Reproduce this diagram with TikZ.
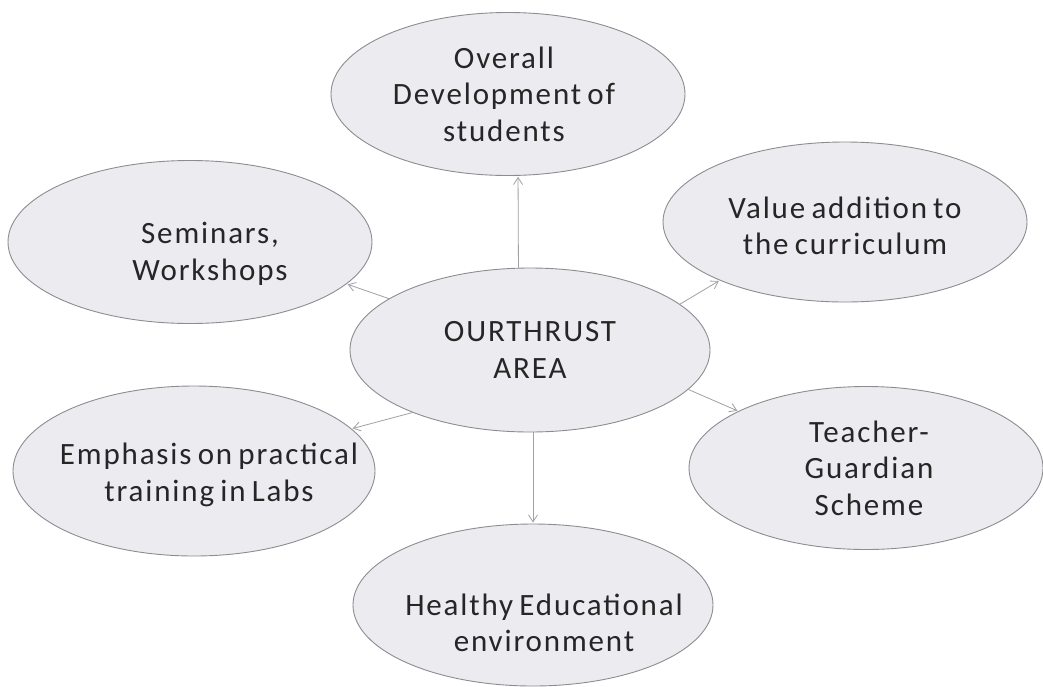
\documentclass[tikz,border=0pt]{standalone}
\usepackage{fontspec}
\setmainfont{Carlito}[LetterSpace=6,WordSpace=0.7]
\usetikzlibrary{shapes.geometric,arrows.meta}
\definecolor{ellfill}{RGB}{236,236,240}
\definecolor{ellline}{RGB}{140,140,145}
\definecolor{arrline}{RGB}{160,160,165}

\begin{document}
\begin{tikzpicture}[x=1pt,y=-1pt,>={Straight Barb[length=7pt,width=9pt]},
                    shorten >=1pt]
  \tikzstyle{area}=[ellipse,fill=ellfill,draw=ellline,line width=0.9pt,
                    inner sep=0pt,minimum width=360pt,minimum height=163pt]
  \tikzstyle{lbl}=[font=\fontsize{31}{36.5}\selectfont,text=black!85,align=center]
  \tikzstyle{link}=[->,draw=arrline,line width=0.8pt]

  \useasboundingbox (0,0) rectangle (1043,686);

  % ellipses
  \node[area,minimum height=164pt]                    (thrust)   at (530,350) {};
  \node[area,minimum width=354pt]                     (overall)  at (508,94)  {};
  \node[area,minimum width=364pt]                     (seminars) at (190,242) {};
  \node[area,minimum width=364pt,minimum height=160pt] (value)   at (845,222) {};
  \node[area,minimum width=362pt,minimum height=170pt] (emphasis) at (194,471) {};
  \node[area,minimum width=354pt]                     (teacher)  at (866,468) {};
  \node[area,minimum height=162pt]                    (healthy)  at (533,605) {};

  % texts
  \node[lbl] (thrust-t)   at (thrust)                  {OURTHRUST\\AREA};
  \node[lbl] (overall-t)  at ([xshift=-4pt]overall)    {Overall\\Development of\\students};
  \node[lbl] (seminars-t) at ([shift={(20,12)}]seminars) {Seminars,\\Workshops};
  \node[lbl] (value-t)    at ([shift={(0,4)}]value)    {Value addition to\\the curriculum};
  \node[lbl] (emphasis-t) at ([shift={(15,4)}]emphasis) {Emphasis on practical\\training in Labs};
  \node[lbl] (teacher-t)  at ([xshift=3pt]teacher)     {Teacher-\\Guardian\\Scheme};
  \node[lbl] (healthy-t)  at ([shift={(11,18)}]healthy) {Healthy Educational\\environment};

  \path (thrust.98)  edge[link] (overall.277)
        (thrust.160) edge[link] (seminars.345)
        (thrust.17)  edge[link] (value.205)
        (thrust.346) edge[link] (teacher.156)
        (thrust.208) edge[link] (emphasis.15)
        (healthy.north |- thrust.south) edge[link] (healthy.north);
\end{tikzpicture}
\end{document}
